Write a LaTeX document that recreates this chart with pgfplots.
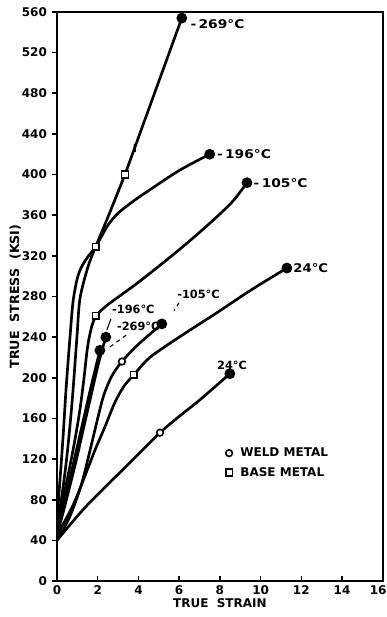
\documentclass[border=0pt]{standalone}
\usepackage{pgfplots}
\pgfplotsset{compat=1.18}
\usepackage{fontspec}
\setmainfont{DejaVu Sans}
\begin{document}
\begin{tikzpicture}
\begin{axis}[
  scale only axis, width=244.5pt, height=427pt,
  xmin=0, xmax=16, ymin=0, ymax=560,
  xtick={0,2,...,14}, ytick={0,40,...,560},
  extra x ticks={16},
  extra x tick style={xticklabel style={xshift=-3.5pt}},
  axis line style={line width=1.4pt},
  x tick style={line width=1.2pt, black}, y tick style={line width=1.2pt, black},
  xtick align=inside, ytick align=outside,
  xtick pos=bottom, ytick pos=left,
  major tick length=4pt,
  /pgf/number format/assume math mode=true,
  ticklabel style={font=\bfseries\fontsize{9}{9}\selectfont},
  xlabel={TRUE\ \ STRAIN}, ylabel={TRUE\ \ STRESS\ \ (KSI)},
  xlabel style={font=\bfseries\fontsize{9}{9}\selectfont, yshift=4pt},
  ylabel style={font=\bfseries\fontsize{9.5}{9.5}\selectfont, yshift=-6pt},
  every axis plot/.append style={line width=2pt, black},
  legend style={draw=none, fill=none, at={(0.505,0.244)}, anchor=north west,
    font=\bfseries\fontsize{9}{9}\selectfont, row sep=2.5pt},
  legend cell align=left,
]
\addlegendimage{only marks, mark=o, mark size=2.5pt, line width=1.2pt}
\addlegendentry{\hspace{4pt}WELD METAL}
\addlegendimage{only marks, mark=square, mark size=2.5pt, line width=1.2pt}
\addlegendentry{\hspace{4pt}BASE METAL}
% -196 base
\addplot[smooth, forget plot] coordinates {(0,60) (0.15,100) (0.3,142) (0.45,190) (0.64,240) (0.79,275) (1.0,298) (1.23,310) (1.55,320) (1.9,329) (2.5,350) (3.0,362) (3.83,375) (4.56,385) (6,404) (7.5,420)};
% -269 base
\addplot[smooth, forget plot] coordinates {(0,55) (0.25,85) (0.5,125) (0.75,178) (0.98,240) (1.13,278) (1.52,309) (1.9,329) (2.5,358) (3.34,400)};
\addplot[forget plot] coordinates {(3.34,400) (6.13,554)};
% -105 base
\addplot[smooth, forget plot] coordinates {(0,55) (0.4,90) (0.8,130) (1.1,165) (1.3,195) (1.5,230) (1.7,250) (1.9,261)};
\addplot[smooth, forget plot] coordinates {(1.9,261) (2.5,272) (4,294) (6,326) (7.5,352) (8.6,373) (9.33,392)};
% -269 weld
\addplot[smooth, forget plot] coordinates {(0,45) (0.4,80) (0.8,115) (1.2,150) (1.6,185) (1.9,210) (2.11,227)};
% -196 weld
\addplot[smooth, forget plot] coordinates {(0,45) (0.4,75) (0.9,115) (1.3,150) (1.7,185) (2.05,215) (2.4,240)};
% -105 weld
\addplot[smooth, forget plot] coordinates {(0,40) (0.6,62) (1.2,95) (1.7,135) (2.0,160) (2.3,183) (2.7,202) (3.19,216) (4,233) (5.15,253)};
% 24 base
\addplot[smooth, forget plot] coordinates {(0,45) (0.8,75) (1.5,110) (1.87,129) (2.36,152) (2.85,176) (3.3,192) (3.78,203) (4.56,220) (6,240) (7.85,264) (9.5,286) (11.29,308)};
% 24 weld
\addplot[smooth, forget plot] coordinates {(0,40) (0.5,52) (1.5,75) (3,105) (4,125) (5.06,146) (6,162) (7,178) (8.49,204)};
% markers
\addplot[only marks, mark=square*, mark size=2.5pt, mark options={fill=white, line width=1.2pt}, forget plot] coordinates {(1.9,329) (3.34,400) (1.9,261) (3.78,203)};
\addplot[only marks, mark=*, mark size=2.5pt, mark options={fill=white, line width=1.2pt}, forget plot] coordinates {(3.19,216) (5.06,146)};
\addplot[only marks, mark=*, mark size=3pt, forget plot] coordinates {(6.13,554) (7.5,420) (9.33,392) (11.29,308) (8.49,204) (5.15,253) (2.4,240) (2.11,227)};
% labels
\begin{scope}[every node/.style={font=\bfseries\fontsize{9}{9}\selectfont, inner sep=0pt}]
\node[anchor=west] at (axis cs:6.55,548) {\scalebox{1.15}[1]{-\,269°C}};
\node[anchor=west] at (axis cs:7.85,420) {\scalebox{1.15}[1]{-\,196°C}};
\node[anchor=west] at (axis cs:9.65,392) {\scalebox{1.15}[1]{-\,105°C}};
\node[anchor=west] at (axis cs:11.6,308) {\scalebox{1.1}[1]{24°C}};
\end{scope}
\begin{scope}[every node/.style={font=\bfseries\fontsize{8.5}{8.5}\selectfont, inner sep=0pt}]
\node[anchor=south] at (axis cs:8.6,208) {24°C};
\node[anchor=west] at (axis cs:5.9,282) {-105°C};
\node[anchor=west] at (axis cs:2.7,267) {-196°C};
\node[anchor=west] at (axis cs:2.94,251) {-269°C};
\node at (axis cs:3.83,426) {I};
\end{scope}
\draw[line width=0.8pt, dashed] (axis cs:6.0,274) -- (axis cs:5.75,266);
\draw[line width=0.8pt] (axis cs:2.45,247) -- (axis cs:2.65,258);
\draw[line width=0.8pt, dashed] (axis cs:3.4,242) -- (axis cs:2.5,229);
\end{axis}
\pgfresetboundingbox
\path (-42.75pt,-27pt) rectangle (247.5pt,436pt);
\end{tikzpicture}
\end{document}
